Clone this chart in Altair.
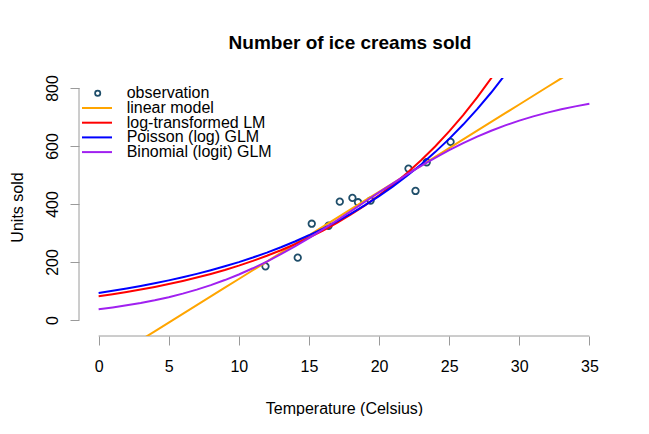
import altair as alt
import pandas as pd

# observations
temp_obs = [11.9, 14.2, 15.2, 16.4, 17.2, 18.1, 18.5, 19.4, 22.1, 22.6, 23.4, 25.1]
units_obs = [185, 215, 332, 325, 408, 421, 406, 412, 522, 445, 544, 614]

# fitted curves read at integer temperatures
grid = list(range(36))
linear_fit = [-159.5, -129.4, -99.3, -69.2, -39.1, -9.1, 21.0, 51.1, 81.2, 111.3,
              141.4, 171.5, 201.6, 231.7, 261.8, 291.9, 321.9, 352.0, 382.1, 412.2,
              442.3, 472.4, 502.5, 532.6, 562.7, 592.8, 622.8, 652.9, 683.0, 713.1,
              743.2, 773.3, 803.4, 833.5, 863.6, 893.7]
loglin_fit = [81.9, 88.9, 96.6, 105.0, 114.0, 123.9, 134.6, 146.2, 158.9, 172.6,
              187.5, 203.7, 221.4, 240.5, 261.3, 283.8, 308.4, 335.0, 364.0, 395.4,
              429.6, 466.7, 507.1, 550.9, 598.5, 650.2, 706.4, 767.5, 833.8, 905.9,
              984.2]
poisson_fit = [93.4, 100.8, 108.8, 117.3, 126.6, 136.6, 147.4, 159.0, 171.6, 185.1,
               199.7, 215.5, 232.5, 250.9, 270.7, 292.1, 315.1, 340.0, 366.9, 395.9,
               427.1, 460.8, 497.2, 536.5, 578.9, 624.6, 673.9, 727.1, 784.5, 846.5,
               913.3]
binomial_fit = [37.2, 43.4, 50.5, 58.6, 68.0, 78.7, 90.9, 104.7, 120.3, 137.7,
                157.0, 178.3, 201.6, 226.8, 253.9, 282.6, 312.6, 343.8, 375.6, 407.8,
                439.9, 471.4, 502.1, 531.5, 559.4, 585.6, 609.9, 632.3, 652.6, 671.0,
                687.5, 702.2, 715.2, 726.6, 736.6, 745.4]

models = ["linear model", "log-transformed LM", "Poisson (log) GLM", "Binomial (logit) GLM"]
model_colors = ["#FFA500", "#FF0000", "#0000FF", "#A020F0"]
x_ticks = [0, 5, 10, 15, 20, 25, 30, 35]
y_ticks = [0, 200, 400, 600, 800]

rows = []
for name, vals in zip(models, [linear_fit, loglin_fit, poisson_fit, binomial_fit]):
    for t, v in zip(grid, vals):
        rows.append({"temp": t, "units": v, "model": name})
fits = pd.DataFrame(rows)
obs = pd.DataFrame({"temp": temp_obs, "units": units_obs, "kind": ["observation"] * len(temp_obs)})
xline_df = pd.DataFrame({"temp": [x_ticks[0]], "temp2": [x_ticks[-1]]})
yline_df = pd.DataFrame({"units": [y_ticks[0]], "units2": [y_ticks[-1]]})

W, H = 530, 258
FONT = "Liberation Sans"
GRAY = "#9a9a9a"
PTCOL = "#1F4E6A"
LEG_TOP = 7.3      # legend first row top (px from plot top)
LEG_STEP = 14.7    # legend row spacing (px)

xscale = alt.Scale(domain=[-1.4, 36.4], nice=False, zero=False)
yscale = alt.Scale(domain=[-55.2, 834.5], nice=False, zero=False)

xaxis = alt.Axis(values=x_ticks, domain=False, grid=False, tickSize=9, tickColor=GRAY,
                 tickWidth=1, labelFont=FONT, labelFontSize=16, labelColor="black",
                 labelPadding=13, labelFlush=False, labelOverlap=False,
                 title="Temperature (Celsius)", titleFont=FONT, titleFontSize=16,
                 titleFontWeight="normal", titleColor="black",
                 titleBaseline="alphabetic", titleY=77)
yaxis = alt.Axis(values=y_ticks, domain=False, grid=False, tickSize=9, tickColor=GRAY,
                 tickWidth=1, labelFont=FONT, labelFontSize=16, labelColor="black",
                 labelPadding=13, labelAngle=270, labelAlign="center",
                 labelBaseline="alphabetic", labelFlush=False, labelOverlap=False,
                 title="Units sold", titleFont=FONT, titleFontSize=16,
                 titleFontWeight="normal", titleColor="black", titleAngle=270,
                 titleAlign="center", titleBaseline="alphabetic", titleX=-57)

xline = alt.Chart(xline_df).mark_rule(color=GRAY, strokeWidth=1).encode(
    x=alt.X("temp:Q", scale=xscale, axis=xaxis), x2="temp2:Q", y=alt.value(H))
yline = alt.Chart(yline_df).mark_rule(color=GRAY, strokeWidth=1).encode(
    x=alt.value(0), y=alt.Y("units:Q", scale=yscale, axis=yaxis), y2="units2:Q")

points = alt.Chart(obs).mark_point(filled=False, color=PTCOL, size=42, strokeWidth=1.8,
                                   opacity=1).encode(
    x=alt.X("temp:Q", scale=xscale, axis=xaxis),
    y=alt.Y("units:Q", scale=yscale, axis=yaxis),
    shape=alt.Shape("kind:N", scale=alt.Scale(domain=["observation"], range=["circle"]),
                    legend=alt.Legend(title=None, orient="none", legendX=10.7,
                                      legendY=LEG_TOP,
                                      symbolSize=27, symbolStrokeWidth=1.8,
                                      symbolStrokeColor=PTCOL, symbolFillColor="white",
                                      labelFont=FONT, labelFontSize=16, labelColor="black",
                                      labelOffset=21, padding=0)))

line_layers = []
for i, (name, col) in enumerate(zip(models, model_colors)):
    line_layers.append(
        alt.Chart(fits).transform_filter(alt.datum.model == name)
        .mark_line(clip=True, strokeWidth=2).encode(
            x=alt.X("temp:Q", scale=xscale, axis=xaxis),
            y=alt.Y("units:Q", scale=yscale, axis=yaxis),
            color=alt.Color("model:N", scale=alt.Scale(domain=[name], range=[col]),
                            legend=alt.Legend(title=None, orient="none", legendX=10,
                                              legendY=LEG_TOP + (i + 1) * LEG_STEP,
                                              symbolType="M-2.5,0H2.5", symbolSize=144,
                                              symbolStrokeWidth=2, labelFont=FONT,
                                              labelFontSize=16, labelColor="black",
                                              labelOffset=21.7, padding=0,
                                              labelLimit=300)))
    )

chart = alt.layer(xline, yline, points, *line_layers).resolve_scale(
    color="independent"
).properties(
    width=W, height=H,
    title=alt.TitleParams("Number of ice creams sold", font=FONT, fontSize=19,
                          fontWeight="bold", color="black", anchor="middle",
                          frame="group", baseline="alphabetic", offset=7, dx=6),
    autosize=alt.AutoSizeParams(type="none"),
    padding={"left": 71, "top": 70, "right": 30, "bottom": 80},
    background="white",
).configure_view(stroke=None)

chart.save("out.html", embed_options={"renderer": "svg", "actions": False})
